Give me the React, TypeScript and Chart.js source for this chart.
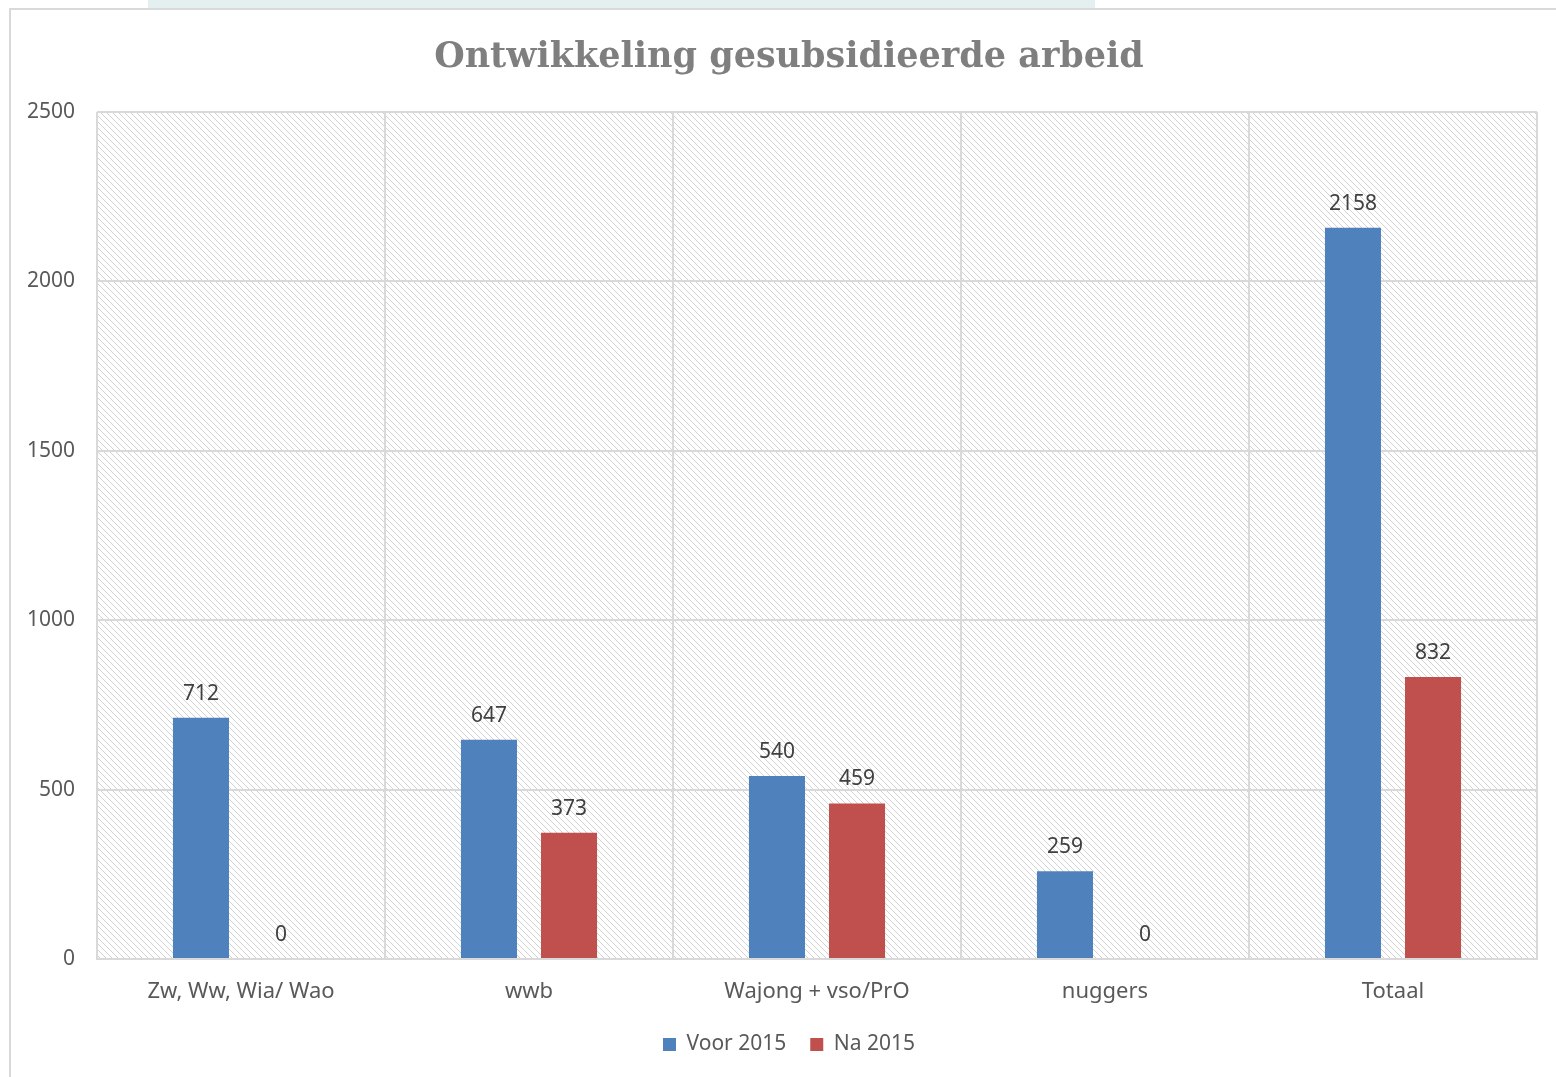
import React, { useEffect, useRef } from "react";
import { Chart, registerables } from "chart.js";

Chart.register(...registerables);

const categories = ["Zw, Ww, Wia/ Wao", "wwb", "Wajong + vso/PrO", "nuggers", "Totaal"];
const seriesNames = ["Voor 2015", "Na 2015"];
const voor2015 = [712, 647, 540, 259, 2158];
const na2015 = [0, 373, 459, 0, 832];
const yMin = 0;
const yMax = 2500;
const yStep = 500;
const titleText = "Ontwikkeling gesubsidieerde arbeid";

const BLUE = "#4f81bd";
const RED = "#c0504d";
const GRID = "#d9d9d9";
const FONT = "'Noto Sans', 'Open Sans', sans-serif";

function makePattern(ctx: CanvasRenderingContext2D) {
  const size = 6;
  const c = document.createElement("canvas");
  c.width = size;
  c.height = size;
  const t = c.getContext("2d")!;
  t.fillStyle = "#ffffff";
  t.fillRect(0, 0, size, size);
  t.fillStyle = "#d2d2d2";
  for (let i = 0; i < size; i++) {
    t.fillRect(i, i, 1, 1);
  }
  return ctx.createPattern(c, "repeat");
}

const hatchPlugin = {
  id: "hatch",
  beforeDraw(chart: any) {
    const { ctx, chartArea } = chart;
    if (!chartArea) return;
    ctx.save();
    const p = makePattern(ctx);
    if (p) ctx.fillStyle = p;
    ctx.fillRect(chartArea.left, chartArea.top, chartArea.right - chartArea.left, chartArea.bottom - chartArea.top);
    ctx.restore();
  },
};

const labelPlugin = {
  id: "valueLabels",
  afterDatasetsDraw(chart: any) {
    const { ctx } = chart;
    ctx.save();
    ctx.font = `21px ${FONT}`;
    ctx.fillStyle = "#404040";
    ctx.textAlign = "center";
    ctx.textBaseline = "middle";
    chart.data.datasets.forEach((ds: any, i: number) => {
      const meta = chart.getDatasetMeta(i);
      meta.data.forEach((bar: any, j: number) => {
        ctx.fillText(String(ds.data[j]), bar.x, bar.y - 24);
      });
    });
    ctx.restore();
  },
};

export default function App() {
  const ref = useRef<HTMLCanvasElement | null>(null);

  useEffect(() => {
    document.body.style.margin = "0";
    document.body.style.overflow = "hidden";
    const canvas = ref.current!;
    const chart = new Chart(canvas, {
      type: "bar",
      data: {
        labels: categories,
        datasets: [
          {
            label: seriesNames[0],
            data: voor2015,
            backgroundColor: BLUE,
            borderWidth: 0,
            categoryPercentage: 0.556,
            barPercentage: 0.7,
          },
          {
            label: seriesNames[1],
            data: na2015,
            backgroundColor: RED,
            borderWidth: 0,
            categoryPercentage: 0.556,
            barPercentage: 0.7,
          },
        ],
      },
      options: {
        responsive: false,
        animation: false,
        devicePixelRatio: 1,
        layout: { padding: { left: 22, right: 0, top: 0, bottom: 12 } },
        scales: {
          x: {
            grid: { color: GRID, lineWidth: 2, drawTicks: false, offset: true },
            border: { color: GRID, width: 2 },
            ticks: { color: "#595959", font: { family: FONT, size: 22 }, padding: 20 },
            afterFit(scale: any) {
              scale.height = 51;
            },
          },
          y: {
            min: yMin,
            max: yMax,
            grid: { color: GRID, lineWidth: 2, drawTicks: false },
            border: { display: false },
            ticks: {
              stepSize: yStep,
              color: "#595959",
              font: { family: FONT, size: 21 },
              padding: 22,
              callback: (v: any) => String(v),
            },
            afterFit(scale: any) {
              scale.width = 75;
            },
          },
          spacer: {
            type: "linear",
            position: "right",
            display: true,
            grid: { display: false, drawTicks: false },
            border: { display: false },
            ticks: { display: false },
            afterFit(scale: any) {
              scale.width = 19;
            },
          },
        },
        plugins: {
          title: {
            display: true,
            text: titleText,
            color: "#7f7f7f",
            font: { family: "'DejaVu Serif', serif", size: 35, weight: "bold" },
            padding: { top: 37, bottom: 33 },
          },
          legend: {
            position: "bottom",
            labels: {
              boxWidth: 13,
              boxHeight: 13,
              color: "#595959",
              font: { family: FONT, size: 21 },
              padding: 24,
            },
          },
          tooltip: { enabled: false },
        },
      },
      plugins: [hatchPlugin, labelPlugin],
    });
    return () => chart.destroy();
  }, []);

  return (
    <div style={{ position: "relative", width: 1556, height: 1077, overflow: "hidden", background: "#ffffff" }}>
      <div style={{ position: "absolute", left: 148, top: 0, width: 947, height: 8, background: "#e4eff0" }} />
      <div
        style={{
          position: "absolute",
          left: 9,
          top: 8,
          width: 1620,
          height: 1120,
          border: "2px solid #d9d9d9",
          background: "#ffffff",
          boxSizing: "border-box",
        }}
      />
      <canvas ref={ref} width={1556} height={1077} style={{ position: "absolute", left: 0, top: 0, width: 1556, height: 1077 }} />
    </div>
  );
}
